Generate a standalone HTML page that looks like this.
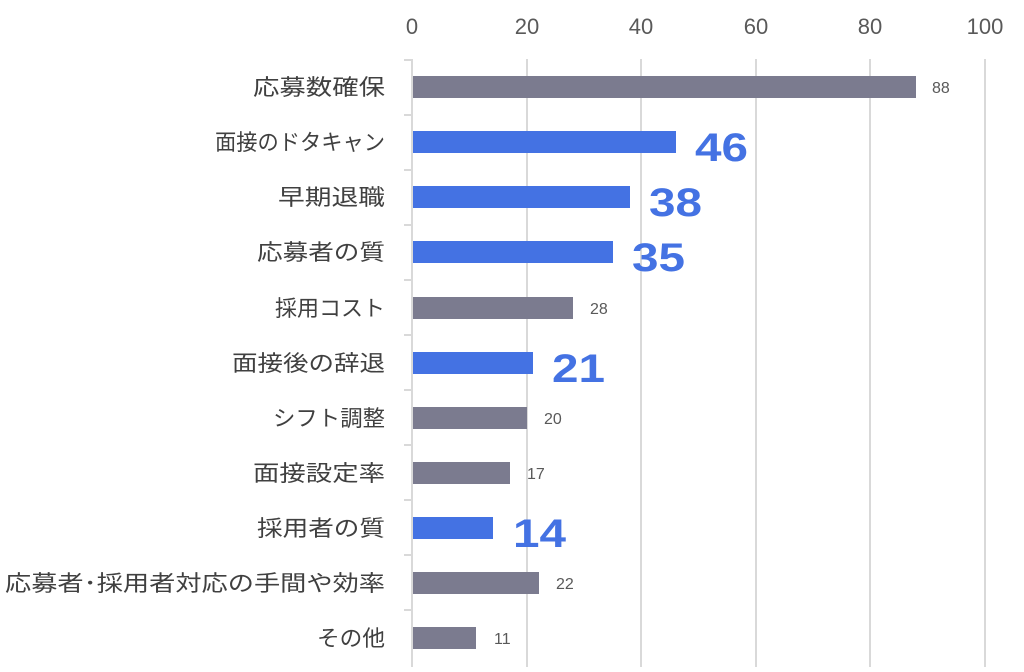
<!DOCTYPE html>
<html><head><meta charset="utf-8"><style>
body{margin:0;background:#fff;}
svg text{font-family:"Liberation Sans","Noto Sans CJK JP",sans-serif;}
</style></head><body>
<svg width="1024" height="667" xmlns="http://www.w3.org/2000/svg">
<g stroke="#d9d9d9" stroke-width="2">
<line x1="527" y1="59" x2="527" y2="667"/><line x1="641" y1="59" x2="641" y2="667"/>
<line x1="756" y1="59" x2="756" y2="667"/><line x1="870" y1="59" x2="870" y2="667"/>
<line x1="985" y1="59" x2="985" y2="667"/>
<line x1="412" y1="59" x2="412" y2="667"/>
<line x1="404" y1="60" x2="412" y2="60"/><line x1="404" y1="115" x2="412" y2="115"/>
<line x1="404" y1="170" x2="412" y2="170"/><line x1="404" y1="225" x2="412" y2="225"/>
<line x1="404" y1="280" x2="412" y2="280"/><line x1="404" y1="335" x2="412" y2="335"/>
<line x1="404" y1="390" x2="412" y2="390"/><line x1="404" y1="445" x2="412" y2="445"/>
<line x1="404" y1="500" x2="412" y2="500"/><line x1="404" y1="555" x2="412" y2="555"/>
<line x1="404" y1="610" x2="412" y2="610"/>
</g>
<g fill="#595959" font-size="22" text-anchor="middle">
<text x="412" y="34">0</text><text x="527" y="34">20</text><text x="641" y="34">40</text>
<text x="756" y="34">60</text><text x="870" y="34">80</text><text x="985" y="34">100</text>
</g>
<g fill="#404040" font-size="22" lengthAdjust="spacingAndGlyphs">
<text x="253" y="95" textLength="132" lengthAdjust="spacingAndGlyphs">応募数確保</text>
<text x="215" y="150" textLength="170" lengthAdjust="spacingAndGlyphs">面接のドタキャン</text>
<text x="278" y="205" textLength="107" lengthAdjust="spacingAndGlyphs">早期退職</text>
<text x="257" y="260" textLength="128" lengthAdjust="spacingAndGlyphs">応募者の質</text>
<text x="275" y="316" textLength="110" lengthAdjust="spacingAndGlyphs">採用コスト</text>
<text x="232" y="371" textLength="153" lengthAdjust="spacingAndGlyphs">面接後の辞退</text>
<text x="273" y="426" textLength="112" lengthAdjust="spacingAndGlyphs">シフト調整</text>
<text x="253" y="481" textLength="132" lengthAdjust="spacingAndGlyphs">面接設定率</text>
<text x="257" y="536" textLength="128" lengthAdjust="spacingAndGlyphs">採用者の質</text>
<text x="5" y="591" textLength="380" lengthAdjust="spacingAndGlyphs">応募者･採用者対応の手間や効率</text>
<text x="317" y="646" textLength="68" lengthAdjust="spacingAndGlyphs">その他</text>
</g>
<g>
<rect x="413" y="76" width="503" height="22" fill="#7b7b8f"/>
<rect x="413" y="131" width="263" height="22" fill="#4472e3"/>
<rect x="413" y="186" width="217" height="22" fill="#4472e3"/>
<rect x="413" y="241" width="200" height="22" fill="#4472e3"/>
<rect x="413" y="297" width="160" height="22" fill="#7b7b8f"/>
<rect x="413" y="352" width="120" height="22" fill="#4472e3"/>
<rect x="413" y="407" width="114" height="22" fill="#7b7b8f"/>
<rect x="413" y="462" width="97" height="22" fill="#7b7b8f"/>
<rect x="413" y="517" width="80" height="22" fill="#4472e3"/>
<rect x="413" y="572" width="126" height="22" fill="#7b7b8f"/>
<rect x="413" y="627" width="63" height="22" fill="#7b7b8f"/>
</g>
<g fill="#595959" font-size="16">
<text x="932" y="93">88</text><text x="590" y="314">28</text><text x="544" y="424">20</text>
<text x="527" y="479">17</text><text x="556" y="589">22</text><text x="494" y="644">11</text>
</g>
<g fill="#4472e3" font-size="40" font-weight="bold">
<text x="695" y="161" textLength="53" lengthAdjust="spacingAndGlyphs">46</text>
<text x="649" y="216" textLength="53" lengthAdjust="spacingAndGlyphs">38</text>
<text x="632" y="271" textLength="53" lengthAdjust="spacingAndGlyphs">35</text>
<text x="552" y="382" textLength="53" lengthAdjust="spacingAndGlyphs">21</text>
<text x="513" y="547" textLength="53" lengthAdjust="spacingAndGlyphs">14</text>
</g>
</svg>
</body></html>
